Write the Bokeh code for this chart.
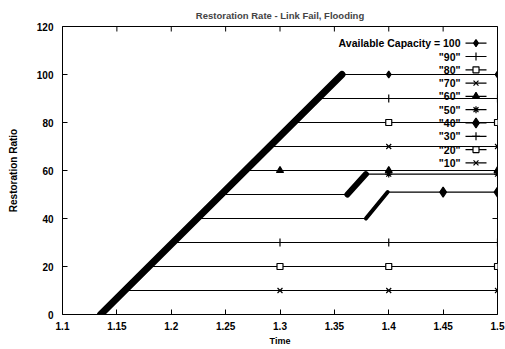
import math
from bokeh.plotting import figure
from bokeh.models import Range1d, FixedTicker
from bokeh.core.properties import value
from bokeh.embed import file_html
from bokeh.resources import INLINE

FONT = "Liberation Sans"

# ---- data ----
title_text = "Restoration Rate - Link Fail, Flooding"
x_ticks = [1.1, 1.15, 1.2, 1.25, 1.3, 1.35, 1.4, 1.45, 1.5]
x_tick_labels = ["1.1", "1.15", "1.2", "1.25", "1.3", "1.35", "1.4", "1.45", "1.5"]
y_ticks = [0, 20, 40, 60, 80, 100, 120]

ramp_time = [1.135, 1.357]
ramp_value = [0.0, 100.0]

series_names = ["Available Capacity = 100", '"90"', '"80"', '"70"', '"60"',
                '"50"', '"40"', '"30"', '"20"', '"10"']

time_100 = [1.357, 1.4, 1.5]
value_100 = [100, 100, 100]
time_90 = [1.335, 1.4, 1.5]
value_90 = [90, 90, 90]
time_80 = [1.313, 1.4, 1.5]
value_80 = [80, 80, 80]
time_70 = [1.290, 1.4, 1.5]
value_70 = [70, 70, 70]
time_60 = [1.268, 1.3, 1.4, 1.5]
value_60 = [60, 60, 60, 60]
time_50 = [1.246, 1.362, 1.379, 1.4, 1.5]
value_50 = [50, 50, 58.5, 58.5, 58.5]
time_40 = [1.224, 1.379, 1.399, 1.45, 1.5]
value_40 = [40, 40, 51, 51, 51]
time_30 = [1.202, 1.3, 1.4, 1.5]
value_30 = [30, 30, 30, 30]
time_20 = [1.179, 1.3, 1.4, 1.5]
value_20 = [20, 20, 20, 20]
time_10 = [1.157, 1.3, 1.4, 1.5]
value_10 = [10, 10, 10, 10]

series_times = [time_100, time_90, time_80, time_70, time_60,
                time_50, time_40, time_30, time_20, time_10]
series_values = [value_100, value_90, value_80, value_70, value_60,
                 value_50, value_40, value_30, value_20, value_10]

# ---- styles ----
markers = ["diamond", "cross", "square", "x", "triangle",
           "asterisk", "diamond", "cross", "square", "x"]
marker_sizes = [7, 8, 6, 7, 7, 7, 10, 8, 6, 7]
marker_fill = ["black", None, "white", None, "black",
               None, "black", None, "white", None]
marker_from = [1, 1, 1, 1, 1, 3, 3, 1, 1, 1]   # first visible marker index

W, H = 505, 349
B_LEFT, B_RIGHT, B_TOP, B_BOTTOM = 62, 8, 26, 35
X0, X1 = 1.1, 1.5
Y0, Y1 = 0, 120

p = figure(width=W, height=H, x_range=Range1d(X0, X1), y_range=Range1d(Y0, Y1),
           output_backend="svg", toolbar_location=None,
           min_border_left=B_LEFT, min_border_right=B_RIGHT,
           min_border_top=B_TOP, min_border_bottom=B_BOTTOM)
p.xgrid.visible = False
p.ygrid.visible = False
p.outline_line_color = "black"
p.outline_line_width = 1
p.background_fill_color = "white"
p.border_fill_color = "white"

p.title.text = title_text
p.title.align = "center"
p.title.text_font = FONT
p.title.text_font_size = "9.5px"
p.title.text_font_style = "bold"
p.title.vertical_align = "top"
p.title.standoff = 8

xa = p.xaxis[0]
xa.ticker = FixedTicker(ticks=x_ticks)
xa.major_label_overrides = {t: l for t, l in zip(x_ticks, x_tick_labels)}
xa.axis_label = "Time"
ya = p.yaxis[0]
ya.ticker = FixedTicker(ticks=y_ticks)
ya.axis_label = "Restoration Ratio"
for ax in (xa, ya):
    ax.axis_line_color = None
    ax.major_tick_in = 5
    ax.major_tick_out = 0
    ax.minor_tick_line_color = None
    ax.major_tick_line_color = "black"
    ax.major_label_text_font = FONT
    ax.major_label_text_font_size = "10px"
    ax.major_label_text_font_style = "bold"
    ax.major_label_text_color = "black"
    ax.axis_label_text_font = FONT
    ax.axis_label_text_font_style = "bold"
    ax.axis_label_text_color = "black"
xa.major_label_standoff = 7
xa.axis_label_standoff = 3
xa.axis_label_text_font_size = "9px"
ya.major_label_standoff = 9
ya.axis_label_standoff = 15
ya.axis_label_text_font_size = "10px"

# mirrored tick marks on the top and right frame edges
n_x = len(x_ticks)
n_y = len(y_ticks)
p.scatter(x_ticks, [y_ticks[-1]] * n_x, marker="dash", size=10, angle=math.pi / 2,
          line_color="black", line_width=1)
p.scatter([x_ticks[-1]] * n_y, y_ticks, marker="dash", size=10,
          line_color="black", line_width=1)

# thick ramp (dense points in the original)
p.line(ramp_time, ramp_value, line_color="black", line_width=7, line_cap="round")
# thick jumps
p.line(time_50[1:3], value_50[1:3], line_color="black", line_width=6, line_cap="round")
p.line(time_40[1:3], value_40[1:3], line_color="black", line_width=4, line_cap="round")

for i in range(len(series_names)):
    p.line(series_times[i], series_values[i], line_color="black", line_width=1.2)
    k = marker_from[i]
    p.scatter(series_times[i][k:], series_values[i][k:], marker=markers[i],
              size=marker_sizes[i], line_color="black", line_width=1.2,
              fill_color=marker_fill[i])

# ---- gnuplot-style key: text right-aligned, sample on the right ----
frame_w = W - B_LEFT - B_RIGHT
frame_h = H - B_TOP - B_BOTTOM
ux = (X1 - X0) / frame_w      # data units per pixel
uy = (Y1 - Y0) / frame_h
key_top_px = 16.7             # first row centre, px below frame top
key_row_px = 13.3
key_text_px = 398             # right edge of key text, px from frame left
key_s0_px, key_s1_px = 403, 424

n = len(series_names)
row_y = [Y1 - (key_top_px + key_row_px * i) * uy for i in range(n)]
p.text(x=[X0 + key_text_px * ux] * n, y=row_y, text=series_names,
       text_align="right", text_baseline="middle", text_font=value(FONT),
       text_font_size="10.5px", text_font_style="bold", text_color="black")
p.segment(x0=[X0 + key_s0_px * ux] * n, y0=row_y, x1=[X0 + key_s1_px * ux] * n, y1=row_y,
          line_color="black", line_width=1.2)
xm = X0 + (key_s0_px + key_s1_px) / 2 * ux
for i in range(n):
    p.scatter([xm], [row_y[i]], marker=markers[i], size=marker_sizes[i],
              line_color="black", line_width=1.2, fill_color=marker_fill[i])

open("out.html", "w").write(file_html(p, INLINE))
